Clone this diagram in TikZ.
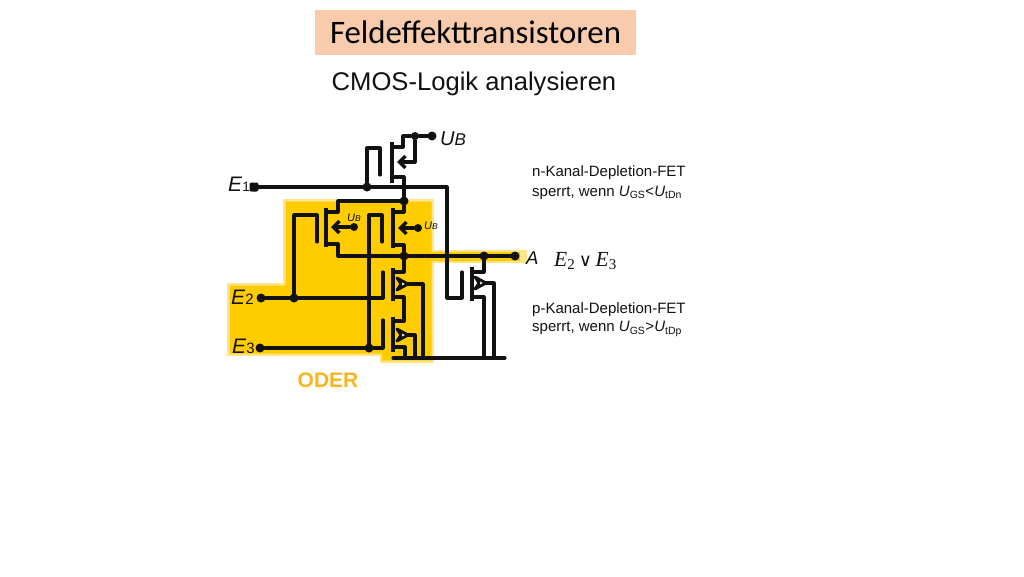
\documentclass[tikz,border=0pt]{standalone}
\usepackage{fontspec}
\setmainfont{Liberation Sans}
\newfontfamily\titlefont{Carlito}
\newfontfamily\exprfont{Liberation Serif}
\newfontfamily\symfont{DejaVu Sans}
\definecolor{oder}{HTML}{FFCC00}
\definecolor{oderpale}{HTML}{FFE48A}
\definecolor{odertext}{HTML}{F9B51E}
\definecolor{titlebg}{HTML}{F8CBAD}
\definecolor{ink}{HTML}{111111}
\usetikzlibrary{arrows.meta}
\tikzset{
  wire/.style={draw=ink,line width=3.1pt,line cap=round,line join=round},
  channel/.style={draw=ink,line width=4.2pt},
  dotnode/.style={circle,fill=ink,draw=none,inner sep=0pt,minimum size=9pt},
  smalldot/.style={circle,fill=ink,draw=none,inner sep=0pt,minimum size=8pt},
  nfilled/.style={draw=ink,line width=3.1pt,line cap=round,line join=round,-{Straight Barb[length=6pt,width=12pt,line width=3.4pt]}},
  ptip/.style={draw=ink,fill=white,line width=2.8pt,line join=round},
  lab/.style={inner sep=0pt,anchor=west,text=ink},
  info/.style={inner sep=0pt,anchor=west,font=\fontsize{15}{17}\selectfont,text=ink}
}
\newcommand{\ptriangle}[2]{\path[ptip] (#1,#2) -- (#1-11,#2-6) -- (#1-7,#2) -- (#1-11,#2+6) -- cycle;}
\begin{document}
\begin{tikzpicture}[x=1pt,y=-1pt]
\useasboundingbox (0,0) rectangle (1024,576);
% highlight
\path[fill=oderpale,draw=oderpale,line width=1.5pt,line join=round]
  (284,200) -- (433,200) -- (433,250.5) -- (526,250.5) -- (526,262.5) -- (433,262.5) -- (433,362) -- (381,362) -- (381,355) -- (228,355) -- (228,284) -- (284,284) -- cycle;
\path[fill=oder]
  (285.5,201.5) -- (431.5,201.5) -- (431.5,252) -- (505,252) -- (505,261) -- (431.5,261) -- (431.5,360.5) -- (382,360.5) -- (382,353.5) -- (229.5,353.5) -- (229.5,285.5) -- (285.5,285.5) -- cycle;
\path[fill=oder] (505,252) rectangle (520,261);
% title
\node[fill=titlebg,minimum width=321pt,minimum height=45pt,inner sep=0pt,font=\titlefont\fontsize{32.8}{36}\selectfont,text=black] (title) at (475.5,32.5) {Feldeffekttransistoren};
\node[inner sep=0pt,font=\fontsize{25.6}{28}\selectfont,text=ink] (sub) at (474,83.5) {CMOS-Logik analysieren};
% junctions and terminals
\node[dotnode] (ub) at (432,136) {};
\node[smalldot] (ubj) at (415,136) {};
\node[dotnode,rectangle,rounded corners=2pt] (e1) at (254,187) {};
\node[dotnode] (e1j) at (367,187) {};
\node[dotnode] (vj) at (404,201) {};
\node[dotnode] (aj) at (404,256) {};
\node[dotnode] (arj) at (484,256) {};
\node[dotnode] (a) at (515,256) {};
\node[dotnode] (e2) at (261,298) {};
\node[dotnode] (e2j) at (294,298) {};
\node[dotnode] (e3) at (260,348) {};
\node[dotnode] (e3j) at (369,348) {};
\coordinate (gndl) at (393,358);
\coordinate (gndr) at (505,358);
\coordinate (lu) at (338,201);
\coordinate (ld) at (338,256);
% top transistor
\draw[wire] (ub) -- (ubj) -- (403,136) -- (403,147) -- (392,147);
\draw[wire] (392,177) -- (404,177) -- (vj);
\draw[nfilled] (ubj) -- (415,162) -- (397,162);
\draw[channel] (392,142) -- (392,183);
\draw[wire] (e1) -- (e1j) -- (367,148) -- (380,148) -- (380,175);
\draw[wire] (e1j) -- (447,187) -- (447,298) -- (462,298) -- (462,272);
% left depletion transistor
\draw[wire] (vj) -- (lu) -- (338,212) -- (326,212);
\draw[wire] (326,244) -- (338,244) -- (ld);
\draw[channel] (326,208) -- (326,247);
\draw[wire] (e2j) -- (294,215) -- (317,215) -- (317,242);
\node[smalldot] (ubl) at (354,227) {};
\draw[nfilled] (ubl) -- (331,227);
% middle depletion transistor
\draw[wire] (vj) -- (404,212) -- (393,212);
\draw[wire] (393,245) -- (404,245) -- (aj);
\draw[channel] (393,208) -- (393,248);
\draw[wire] (e3j) -- (369,215) -- (382,215) -- (382,242);
\node[smalldot] (ubm) at (418,228) {};
\draw[nfilled] (ubm) -- (398,228);
% output line
\draw[wire] (ld) -- (aj) -- (arj) -- (a);
% series p transistors
\draw[wire] (aj) -- (404,272) -- (393,272);
\draw[wire] (393,297) -- (404,297) -- (404,321) -- (393,321);
\draw[wire] (393,347) -- (405,347) -- (405,358);
\draw[wire] (408,284) -- (423,284) -- (423,358);
\draw[wire] (408,335) -- (415,335) -- (415,358);
\ptriangle{408}{284}
\ptriangle{408}{335}
\draw[channel] (393,268) -- (393,301);
\draw[channel] (393,317) -- (393,352);
\draw[wire] (e2) -- (e2j) -- (383,298) -- (383,272);
\draw[wire] (e3) -- (e3j) -- (383,348) -- (383,320);
% right p transistor
\draw[wire] (arj) -- (484,272) -- (472,272);
\draw[wire] (472,297) -- (484,297) -- (484,358);
\draw[wire] (485,283) -- (494,283) -- (494,358);
\ptriangle{486}{283}
\draw[channel] (472,267) -- (472,301);
\draw[wire] (gndl) -- (gndr);
% labels
\node[lab] (lub) at (440,138.5) {\fontsize{20}{22}\selectfont\textit{U}\fontsize{17}{20}\selectfont\textit{B}};
\node[lab] (le1) at (228,184) {\fontsize{21}{24}\selectfont\textit{E}\fontsize{13.5}{18}\selectfont 1};
\node[lab] (le2) at (231,297) {\fontsize{21}{24}\selectfont\textit{E}\fontsize{15}{18}\selectfont 2};
\node[lab] (le3) at (232,346) {\fontsize{21}{24}\selectfont\textit{E}\fontsize{15}{18}\selectfont 3};
\node[lab] (lul) at (347,218) {\fontsize{11}{13}\selectfont\textit{U}\fontsize{8.5}{10}\selectfont\textit{B}};
\node[lab] (lum) at (424,226) {\fontsize{11}{13}\selectfont\textit{U}\fontsize{8.5}{10}\selectfont\textit{B}};
\node[lab] (la) at (526,258) {\fontsize{18.5}{22}\selectfont\textit{A}};
\node[lab] (expr) at (554,261) {\exprfont\fontsize{21.5}{24}\selectfont\textit{E}\textsubscript{2}\,{\symfont\fontsize{18}{20}\selectfont ∨}\,\textit{E}\textsubscript{3}};
\node[inner sep=0pt,font=\bfseries\fontsize{21}{24}\selectfont,text=odertext] (oderl) at (328,380) {ODER};
\node[info] (n1) at (532,172.5) {n-Kanal-Depletion-FET};
\node[info] (n2) at (532,192.5) {sperrt, wenn \textit{U}\textsubscript{GS}<\textit{U}\textsubscript{tDn}};
\node[info] (p1) at (532,309.5) {p-Kanal-Depletion-FET};
\node[info] (p2) at (532,329) {sperrt, wenn \textit{U}\textsubscript{GS}>\textit{U}\textsubscript{tDp}};
\end{tikzpicture}
\end{document}
